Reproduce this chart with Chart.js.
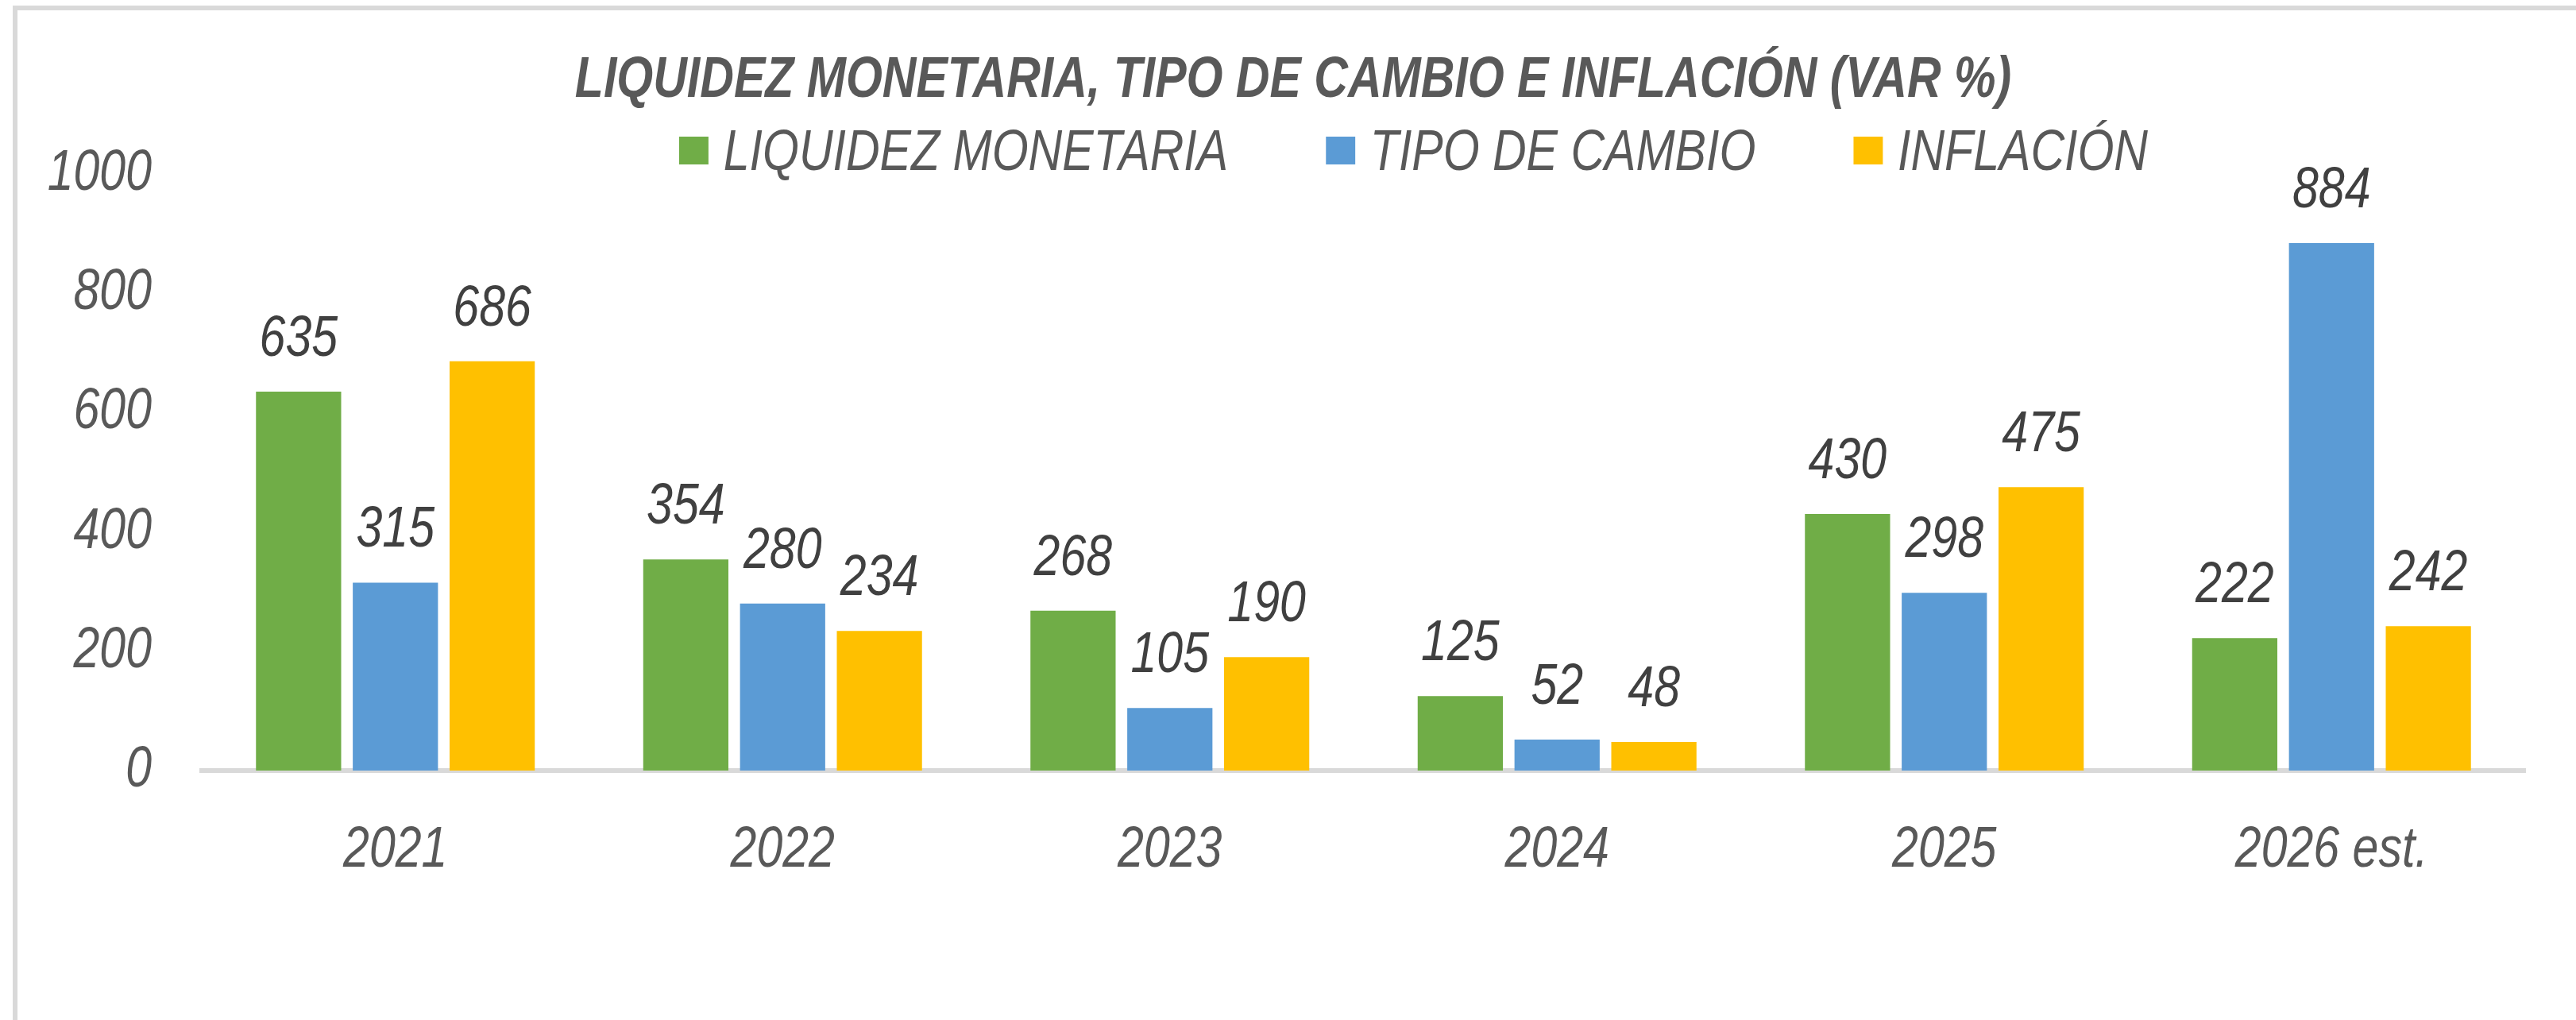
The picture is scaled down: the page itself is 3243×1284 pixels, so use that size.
<!DOCTYPE html>
<html lang="es">
<head>
<meta charset="utf-8">
<title>Liquidez monetaria, tipo de cambio e inflación</title>
<script src="https://cdn.jsdelivr.net/npm/chart.js@4.4.1/dist/chart.umd.min.js"></script>
<style>
  html, body {
    margin: 0;
    padding: 0;
    background: #ffffff;
    overflow: hidden;
  }
  .wrap {
    position: relative;
    width: 3243px;
    height: 1284px;
  }
  .frame {
    position: absolute;
    left: 16px;
    top: 7px;
    right: -20px;
    bottom: -20px;
    border-left: 6px solid #d9d9d9;
    border-top: 6px solid #d9d9d9;
  }
  #chartCanvas {
    position: absolute;
    left: 0;
    top: 0;
  }
  /* no narrow font installed: squeeze Liberation Sans to look like Arial Narrow */
  .title {
    position: absolute;
    left: 0;
    top: 61px;
    width: 3256px;
    text-align: center;
    transform: scaleX(0.82);
    transform-origin: 50% 50%;
    font-family: "Liberation Sans", Arial, sans-serif;
    font-style: italic;
    font-weight: bold;
    font-size: 72px;
    line-height: 1;
    color: #595959;
    white-space: nowrap;
  }
  .legend {
    position: absolute;
    left: 855px;
    top: 153px;
    display: flex;
    align-items: center;
    transform: scaleX(0.82);
    transform-origin: 0 50%;
    font-family: "Liberation Sans", Arial, sans-serif;
    font-style: italic;
    font-size: 72px;
    line-height: 1;
    color: #595959;
    white-space: nowrap;
  }
  .legend-item {
    display: flex;
    align-items: center;
    margin-right: 150px;
  }
  .legend-box {
    width: 45px;
    height: 35px;
    margin-right: 23px;
  }
</style>
</head>
<body>
<div class="wrap">
  <div class="frame"></div>
  <canvas id="chartCanvas" width="3243" height="1284"></canvas>
  <div class="title">LIQUIDEZ MONETARIA, TIPO DE CAMBIO E INFLACIÓN (VAR %)</div>
  <div class="legend" id="legend"></div>
</div>
<script>
const years = ["2021", "2022", "2023", "2024", "2025", "2026 est."];
const seriesNames = ["LIQUIDEZ MONETARIA", "TIPO DE CAMBIO", "INFLACIÓN"];
const liquidez = [635, 354, 268, 125, 430, 222];
const tipoCambio = [315, 280, 105, 52, 298, 884];
const inflacion = [686, 234, 190, 48, 475, 242];
const yTicks = [0, 200, 400, 600, 800, 1000];
const seriesColors = ["#70ad47", "#5b9bd5", "#ffc000"];

const fontFamily = "\"Liberation Sans\", Arial, sans-serif";
const textColor = "#595959";
const labelColor = "#404040";
const narrow = 0.82;

const canvas = document.getElementById("chartCanvas");
const ctx = canvas.getContext("2d");

// squeeze all canvas text horizontally (Arial Narrow look), keeping the anchor point
const baseFillText = ctx.fillText.bind(ctx);
const baseMeasureText = ctx.measureText.bind(ctx);
ctx.fillText = function (text, x, y, maxWidth) {
  ctx.save();
  ctx.translate(x, y);
  ctx.scale(narrow, 1);
  if (maxWidth === undefined) {
    baseFillText(text, 0, 0);
  } else {
    baseFillText(text, 0, 0, maxWidth / narrow);
  }
  ctx.restore();
};
ctx.measureText = function (text) {
  const m = baseMeasureText(text);
  return {
    width: m.width * narrow,
    actualBoundingBoxLeft: m.actualBoundingBoxLeft * narrow,
    actualBoundingBoxRight: m.actualBoundingBoxRight * narrow,
    actualBoundingBoxAscent: m.actualBoundingBoxAscent,
    actualBoundingBoxDescent: m.actualBoundingBoxDescent
  };
};

// value labels above every bar
const barValueLabels = {
  id: "barValueLabels",
  afterDatasetsDraw(chart) {
    const c = chart.ctx;
    c.save();
    c.font = `italic 72px ${fontFamily}`;
    c.fillStyle = labelColor;
    c.textAlign = "center";
    c.textBaseline = "alphabetic";
    chart.data.datasets.forEach((dataset, i) => {
      const meta = chart.getDatasetMeta(i);
      meta.data.forEach((bar, j) => {
        c.fillText(String(dataset.data[j]), bar.x, bar.y - 45);
      });
    });
    c.restore();
  }
};

const seriesData = [liquidez, tipoCambio, inflacion];

new Chart(canvas, {
  type: "bar",
  data: {
    labels: years,
    datasets: seriesNames.map((name, i) => ({
      label: name,
      data: seriesData[i],
      backgroundColor: seriesColors[i],
      borderWidth: 0,
      categoryPercentage: 0.75,
      barPercentage: 0.88
    }))
  },
  options: {
    responsive: false,
    animation: false,
    layout: {
      padding: { left: 0, right: 64, top: 219, bottom: 0 }
    },
    plugins: {
      legend: { display: false },
      tooltip: { enabled: false },
      title: { display: false }
    },
    scales: {
      x: {
        grid: { display: false, drawTicks: false },
        border: { display: true, color: "#d9d9d9", width: 6 },
        ticks: {
          color: textColor,
          padding: 58,
          maxRotation: 0,
          font: { family: fontFamily, size: 72, style: "italic" }
        },
        afterFit(scale) {
          scale.height = 314;
        }
      },
      y: {
        min: 0,
        max: 1000,
        grid: { display: false, drawTicks: false },
        border: { display: false },
        afterBuildTicks(scale) {
          scale.ticks = yTicks.map((v) => ({ value: v }));
        },
        ticks: {
          color: textColor,
          padding: 63,
          font: { family: fontFamily, size: 72, style: "italic" },
          callback(value) {
            return String(value);
          }
        },
        afterFit(scale) {
          scale.width = 254;
        }
      }
    }
  },
  plugins: [barValueLabels]
});

const legendEl = document.getElementById("legend");
seriesNames.forEach((name, i) => {
  const item = document.createElement("div");
  item.className = "legend-item";
  const box = document.createElement("span");
  box.className = "legend-box";
  box.style.background = seriesColors[i];
  const text = document.createElement("span");
  text.textContent = name;
  item.appendChild(box);
  item.appendChild(text);
  legendEl.appendChild(item);
});
</script>
</body>
</html>
